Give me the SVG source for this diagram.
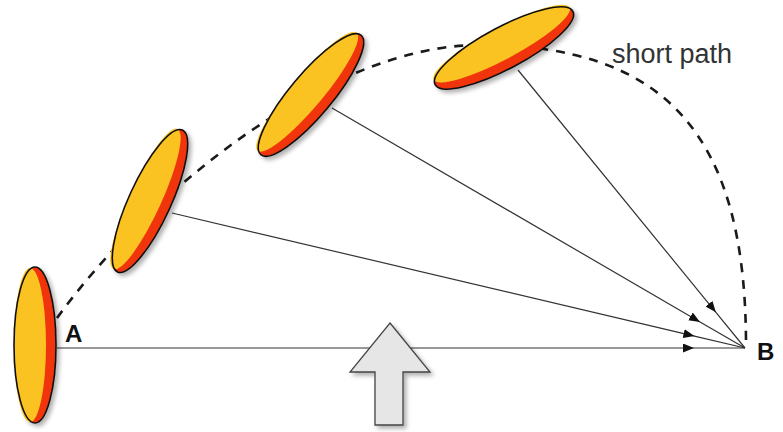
<svg xmlns="http://www.w3.org/2000/svg" width="783" height="432" viewBox="0 0 783 432">
<defs>
<filter id="sh" x="-30%" y="-30%" width="160%" height="160%">
<feDropShadow dx="3" dy="3" stdDeviation="2" flood-color="#000" flood-opacity="0.3"/>
</filter>
<marker id="ah" markerWidth="12" markerHeight="10" refX="11" refY="4.5" orient="auto" markerUnits="userSpaceOnUse">
<path d="M0,0 L11,4.5 L0,9 Z" fill="#111"/>
</marker>
<g id="disc">
<ellipse cx="0" cy="0" rx="21" ry="78" fill="#F0340C"/>
<ellipse cx="-5" cy="0" rx="16" ry="77" fill="#FBC321"/>
<ellipse cx="0" cy="0" rx="21" ry="78" fill="none" stroke="#111" stroke-width="1.6"/>
</g>
</defs>
<style>
.ln{fill:none;stroke:#333;stroke-width:1.2;marker-mid:url(#ah)}
.arc{fill:none;stroke:#1a1a1a;stroke-width:2.6;stroke-dasharray:9 8}
.lbl{font-family:"Liberation Sans",Arial,sans-serif;font-weight:bold;font-size:24px;fill:#111}
.cap{font-family:"Liberation Sans",Arial,sans-serif;font-size:27px;fill:#333}
</style>
<rect width="783" height="432" fill="#fff"/>
<g id="connectors">
<path class="arc" d="M57,318 C150,190 330,45 480,45 C666,45 746,135 746,345"/>
<path class="ln" d="M57,348 L694,348 L745,348"/>
<path class="ln" d="M172,213 L694.4,336.1 L745,348"/>
<path class="ln" d="M332,108 L700,321.9 L745,348"/>
<path class="ln" d="M518,70 L715.9,312.3 L745,348"/>
</g>
<g id="ellipse1" filter="url(#sh)"><use href="#disc" transform="translate(35,345)"/></g>
<g id="ellipse2" filter="url(#sh)"><use href="#disc" transform="translate(150,201) rotate(24.6)"/></g>
<g id="ellipse3" filter="url(#sh)"><use href="#disc" transform="translate(311,95) rotate(40)"/></g>
<g id="ellipse4" filter="url(#sh)"><use href="#disc" transform="translate(504,48) rotate(62)"/></g>
<g id="uparrow" filter="url(#sh)">
<path d="M390,323 L430,372 L403,372 L403,425 L375,425 L375,372 L350,372 Z" fill="#E6E6E6" stroke="#444" stroke-width="1.3"/>
</g>
<g id="labelA"><text class="lbl" x="65" y="342">A</text></g>
<g id="labelB"><text class="lbl" x="757" y="360">B</text></g>
<g id="labelShort"><text class="cap" x="612" y="63">short path</text></g>
</svg>
